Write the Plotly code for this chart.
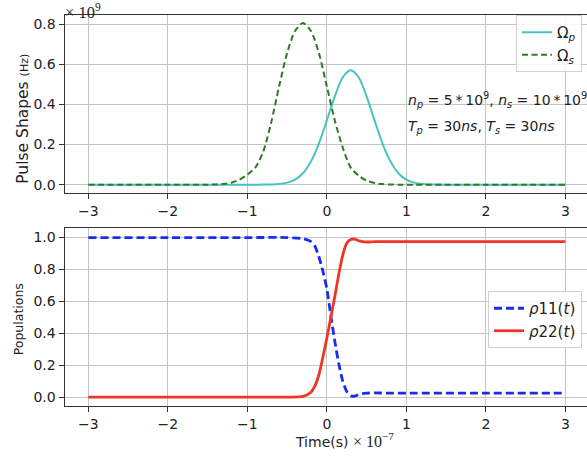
import plotly.graph_objects as go

# ---- data (time in units of 1e-7 s, pulses in units of 1e9 Hz) ----
t_top = [-3.0, -2.5, -2.0, -1.5, -1.4, -1.3, -1.2, -1.1, -1.0, -0.9, -0.8, -0.7, -0.6,
         -0.5, -0.4, -0.3, -0.2, -0.1, 0.0, 0.1, 0.2, 0.3, 0.4, 0.5, 0.6, 0.7, 0.8,
         0.9, 1.0, 1.1, 1.2, 1.3, 1.4, 1.5, 2.0, 2.5, 3.0]
omega_p = [0, 0, 0, 0, 0, 0, 0, 0, 0, 0, 0.0003, 0.001, 0.003,
           0.01, 0.025, 0.057, 0.116, 0.205, 0.32, 0.44, 0.535, 0.57, 0.535, 0.44, 0.32, 0.205, 0.116,
           0.057, 0.025, 0.01, 0.003, 0.001, 0.0003, 0, 0, 0, 0]
omega_s = [0, 0, 0, 0, 0.001, 0.004, 0.01, 0.025, 0.05, 0.085, 0.165, 0.31, 0.49,
           0.655, 0.765, 0.805, 0.765, 0.655, 0.49, 0.32, 0.185, 0.085, 0.045, 0.02, 0.008, 0.003, 0.001,
           0, 0, 0, 0, 0, 0, 0, 0, 0, 0]

t_bot = [-3.0, -2.0, -1.0, -0.5, -0.3, -0.2, -0.15, -0.1, -0.05, 0.0, 0.05, 0.1, 0.15,
         0.2, 0.25, 0.3, 0.35, 0.4, 0.45, 0.5, 0.6, 0.8, 1.0, 2.0, 3.0]
rho11 = [1.0, 1.0, 1.0, 1.0, 0.993, 0.975, 0.945, 0.88, 0.79, 0.68, 0.51, 0.35, 0.21,
         0.1, 0.035, 0.008, 0.006, 0.016, 0.022, 0.025, 0.026, 0.025, 0.025, 0.025, 0.025]
rho22 = [0.0, 0.0, 0.0, 0.0, 0.004, 0.03, 0.07, 0.14, 0.25, 0.37, 0.5, 0.63, 0.77,
         0.89, 0.965, 0.988, 0.99, 0.98, 0.975, 0.972, 0.974, 0.975, 0.975, 0.975, 0.975]

x_ticks = [-3, -2, -1, 0, 1, 2, 3]
top_yticks = [0.0, 0.2, 0.4, 0.6, 0.8]
bot_yticks = [0.0, 0.2, 0.4, 0.6, 0.8, 1.0]

W, H = 587, 459
FONT = "DejaVu Sans"
SERIF = "Liberation Serif"

def py(px):
    return 1 - px / H

fig = go.Figure()
fig.add_trace(go.Scatter(x=t_top, y=omega_p, mode="lines", name="Ω<i><sub>p</sub></i>",
                         line=dict(color="#45c2c2", width=2, shape="spline", smoothing=0.8),
                         xaxis="x", yaxis="y", legend="legend"))
fig.add_trace(go.Scatter(x=t_top, y=omega_s, mode="lines", name="Ω<i><sub>s</sub></i>",
                         line=dict(color="#2f7a22", width=2, dash="6px,3.5px", shape="spline", smoothing=0.8),
                         xaxis="x", yaxis="y", legend="legend"))
fig.add_trace(go.Scatter(x=t_bot, y=rho11, mode="lines", name="<i>ρ</i>11(<i>t</i>)",
                         line=dict(color="#1a2cf0", width=2.8, dash="8px,4px", shape="spline", smoothing=0.6),
                         xaxis="x2", yaxis="y2", legend="legend2"))
fig.add_trace(go.Scatter(x=t_bot, y=rho22, mode="lines", name="<i>ρ</i>22(<i>t</i>)",
                         line=dict(color="#ee3627", width=2.8, shape="spline", smoothing=0.6),
                         xaxis="x2", yaxis="y2", legend="legend2"))

x0 = 64.5 / W
xr = [-3.3, -3.3 + (W - 64.5) / 79.5]
axcommon = dict(showline=True, linecolor="#333", linewidth=1, mirror=True,
                ticks="outside", ticklen=5, tickcolor="#333", tickwidth=1,
                showgrid=True, gridcolor="#c4c4c4", gridwidth=1, zeroline=False,
                tickfont=dict(family=FONT, size=14, color="#222"), automargin=False)

fig.update_layout(
    width=W, height=H, margin=dict(l=0, r=0, t=0, b=0),
    paper_bgcolor="white", plot_bgcolor="white",
    xaxis=dict(domain=[x0, 1], range=xr, tickvals=x_ticks, anchor="y", **axcommon),
    yaxis=dict(domain=[py(192.7), py(15)], range=[-0.04, 0.845], tickvals=top_yticks,
               tickformat=".1f", anchor="x", **axcommon),
    xaxis2=dict(domain=[x0, 1], range=xr, tickvals=x_ticks, anchor="y2", **axcommon),
    yaxis2=dict(domain=[py(405.7), py(228.3)], range=[-0.054, 1.058], tickvals=bot_yticks,
                tickformat=".1f", anchor="x2", **axcommon),
    legend=dict(x=582 / W, xanchor="right", y=py(15), yanchor="top",
                bgcolor="rgba(255,255,255,0.85)", bordercolor="#d0d0d0", borderwidth=1,
                font=dict(family=FONT, size=15, color="#222")),
    legend2=dict(x=582 / W, xanchor="right", y=py(291), yanchor="top",
                 bgcolor="rgba(255,255,255,0.85)", bordercolor="#d0d0d0", borderwidth=1,
                 font=dict(family=FONT, size=15, color="#222")),
    showlegend=True,
)

ann = [
    dict(text="× 10<sup>9</sup>", x=63 / W, y=py(-1), xanchor="left", yanchor="top",
         font=dict(family=SERIF, size=16.5, color="#222")),
    dict(text="Pulse Shapes <span style='font-size:11px'>(Hz)</span>", textangle=-90,
         x=22.7 / W, y=py(119), xanchor="center", yanchor="middle",
         font=dict(family=FONT, size=15.5, color="#222")),
    dict(text="Populations", textangle=-90, x=18.3 / W, y=py(319), xanchor="center", yanchor="middle",
         font=dict(family=FONT, size=12.5, color="#222")),
    dict(text="Time(s) <span style='font-family:Liberation Serif;font-size:16px'>× 10<sup>−7</sup></span>",
         x=344 / W, y=py(440), xanchor="center", yanchor="middle",
         font=dict(family=FONT, size=14, color="#222")),
    dict(text="<i>n<sub>p</sub></i> = 5\u2009*\u200910<sup>9</sup>, <i>n<sub>s</sub></i> = 10\u2009*\u200910<sup>9</sup>",
         x=406 / W, y=py(100), xanchor="left", yanchor="middle",
         font=dict(family=FONT, size=14, color="#222")),
    dict(text="<i>T<sub>p</sub></i> = 30<i>ns</i>, <i>T<sub>s</sub></i> = 30<i>ns</i>",
         x=406 / W, y=py(127), xanchor="left", yanchor="middle",
         font=dict(family=FONT, size=14, color="#222")),
]
for a in ann:
    a.update(xref="paper", yref="paper", showarrow=False)
fig.update_layout(annotations=ann)

fig.write_html("out.html")
